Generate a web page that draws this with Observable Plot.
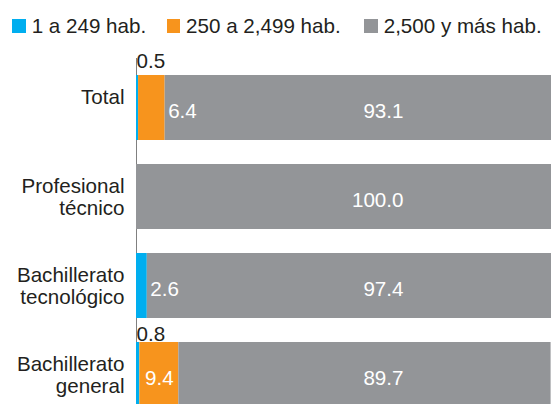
<!DOCTYPE html>
<html>
<head>
<meta charset="utf-8">
<script src="https://cdn.jsdelivr.net/npm/d3@7"></script>
<script src="https://cdn.jsdelivr.net/npm/@observablehq/plot@0.6"></script>
<style>
  html, body { margin: 0; padding: 0; background: #fff; overflow: hidden; }
  body { width: 552px; height: 404px; font-family: "Liberation Sans", Arial, sans-serif; color: #231f20; }
  #legend { height: 44px; position: relative; font-size: 20.6px; line-height: 20.6px; }
  #legend .item { position: absolute; top: 15.7px; display: flex; align-items: center; white-space: nowrap; }
  #legend .sw { width: 13.4px; height: 13.4px; margin-right: 6px; display: inline-block; }
</style>
</head>
<body>
<div id="legend"></div>
<div id="chart"></div>
<script>
// ---- data ----
const categories = ["Total", "Profesional técnico", "Bachillerato tecnológico", "Bachillerato general"];
const categoryLines = ["Total\n ", "Profesional\ntécnico", "Bachillerato\ntecnológico", "Bachillerato\ngeneral"];
const series = ["1 a 249 hab.", "250 a 2,499 hab.", "2,500 y más hab."];
const small = [0.5, 0.0, 2.6, 0.8];      // 1 a 249 hab.
const medium = [6.4, 0.0, 0.0, 9.4];     // 250 a 2,499 hab.
const large = [93.1, 100.0, 97.4, 89.7]; // 2,500 y más hab.
const colors = ["#00aeef", "#f7941d", "#939598"];

// ---- build tidy table ----
const values = [small, medium, large];
const rows = [];
categories.forEach((c, i) => {
  series.forEach((s, j) => {
    rows.push({category: c, series: s, si: j, value: values[j][i]});
  });
});
// cumulative positions for labels
const labels = [];
categories.forEach((c, i) => {
  let x0 = 0;
  series.forEach((s, j) => {
    const v = values[j][i];
    const x1 = x0 + v;
    if (v > 0) labels.push({category: c, ci: i, si: j, value: v, x0, x1, text: v.toFixed(1)});
    x0 = x1;
  });
});

// legend
const legendLeft = [12.3, 166.7, 364.3];
const legend = document.getElementById("legend");
series.forEach((s, j) => {
  const it = document.createElement("div");
  it.className = "item";
  it.style.left = legendLeft[j] + "px";
  const sw = document.createElement("span");
  sw.className = "sw";
  sw.style.background = colors[j];
  it.appendChild(sw);
  it.appendChild(document.createTextNode(s));
  legend.appendChild(it);
});

const lineOf = new Map(categories.map((c, i) => [c, categoryLines[i]]));

// label groups (placement rules)
const above = labels.filter(d => d.si === 0 && d.value < 1);
const afterSeg = labels.filter(d => (d.si === 0 && d.value >= 1) || (d.si === 1 && d.ci === 0));
const midSeg = labels.filter(d => d.si === 1 && d.ci !== 0);
const grayLab = labels.filter(d => d.si === 2);

const font = "Liberation Sans, Arial, sans-serif";
const fs = 20.6;

const chart = Plot.plot({
  width: 552,
  height: 360,
  marginLeft: 136,
  marginRight: 1,
  marginTop: 14,
  marginBottom: 0,
  style: {fontFamily: font, fontSize: fs + "px", color: "#231f20", background: "transparent"},
  x: {domain: [0, 100], axis: null},
  y: {domain: categories, range: [6, 387], padding: 0.272, label: null},
  color: {domain: series, range: colors},
  marks: [
    Plot.ruleX([0], {stroke: "#808080", strokeWidth: 1}),
    Plot.barX(rows, Plot.stackX({x: "value", y: "category", fill: "series", order: null})),
    Plot.axisY({tickSize: 0, tickPadding: 12, tickFormat: d => lineOf.get(d), fontSize: fs, fill: "#231f20", lineHeight: 1.05, label: null}),
    Plot.text(above.filter(d => d.ci === 0), {x: 0, y: "category", text: "text", textAnchor: "start", dy: -46.5, fill: "#231f20", fontSize: fs}),
    Plot.text(above.filter(d => d.ci !== 0), {x: 0, y: "category", text: "text", textAnchor: "start", dy: -40.5, fill: "#231f20", fontSize: fs}),
    Plot.text(afterSeg, {x: "x1", y: "category", text: "text", textAnchor: "start", dx: 3, dy: 3, fill: "white", fontSize: fs}),
    Plot.text(midSeg, {x: d => (d.x0 + d.x1) / 2, y: "category", text: "text", textAnchor: "middle", dy: 3, fill: "white", fontSize: fs}),
    Plot.text(grayLab, {x: () => 64.34, y: "category", text: "text", textAnchor: "end", dy: 3, fill: "white", fontSize: fs})
  ]
});
document.getElementById("chart").appendChild(chart);
</script>
</body>
</html>
